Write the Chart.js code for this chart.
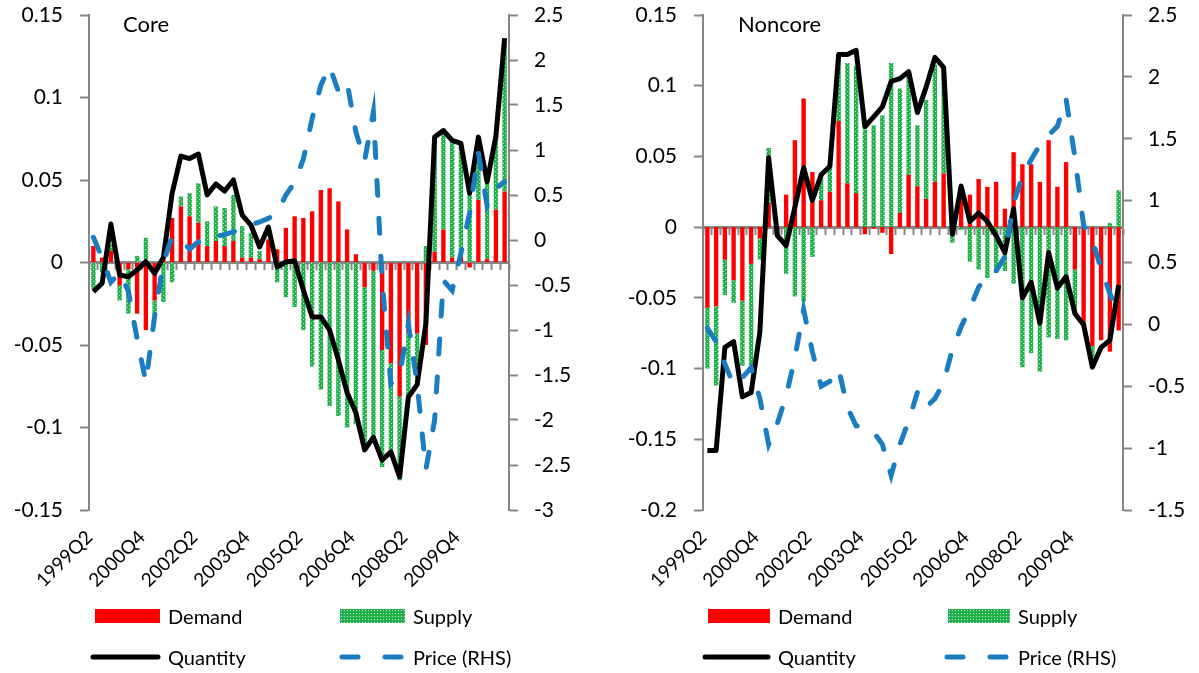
<!DOCTYPE html>
<html>
<head>
<meta charset="utf-8">
<script src="https://cdn.jsdelivr.net/npm/chart.js@4.4.1/dist/chart.umd.min.js"></script>
<style>
  body { margin: 0; background: #fff; font-family: Lato, "Open Sans", sans-serif; }
  #page { position: relative; width: 1199px; height: 673px; overflow: hidden; }
  .panel { position: absolute; top: 0; }
  .title { position: absolute; top: 10px; font-size: 22px; color: #000; }
  .lg { position: absolute; font-size: 20px; color: #000; line-height: 20px; }
  .box { position: absolute; height: 14px; }
  .red { background: #ff0000; }
  .green { background-color: #21b04b; background-image: radial-gradient(#b9e8c4 0.7px, transparent 0.9px); background-size: 3px 3px; }
  svg.sym { position: absolute; overflow: visible; }
</style>
</head>
<body>
<div id="page">
  <div class="panel" style="left:0"><canvas id="core" width="598" height="673"></canvas></div>
  <div class="panel" style="left:600px"><canvas id="noncore" width="599" height="673"></canvas></div>

  <div class="title" style="left:123px">Core</div>
  <div class="title" style="left:738px">Noncore</div>

  <div class="box red" style="left:95px;top:609px;width:65px"></div>
  <div class="lg" style="left:168px;top:606px">Demand</div>
  <div class="box green" style="left:340px;top:609px;width:65px"></div>
  <div class="lg" style="left:413px;top:606px">Supply</div>
  <svg class="sym" style="left:0;top:0" width="1" height="1"><line x1="93" y1="657" x2="158" y2="657" stroke="#000" stroke-width="5" stroke-linecap="round"/></svg>
  <div class="lg" style="left:168px;top:647px">Quantity</div>
  <svg class="sym" style="left:0;top:0" width="1" height="1"><line x1="342" y1="657" x2="405" y2="657" stroke="#1a7dc2" stroke-width="5" stroke-linecap="round" stroke-dasharray="16 27"/></svg>
  <div class="lg" style="left:413px;top:647px">Price (RHS)</div>

  <div class="box red" style="left:708px;top:609px;width:62px"></div>
  <div class="lg" style="left:778px;top:606px">Demand</div>
  <div class="box green" style="left:948px;top:609px;width:62px"></div>
  <div class="lg" style="left:1018px;top:606px">Supply</div>
  <svg class="sym" style="left:0;top:0" width="1" height="1"><line x1="705" y1="657" x2="768" y2="657" stroke="#000" stroke-width="5" stroke-linecap="round"/></svg>
  <div class="lg" style="left:778px;top:647px">Quantity</div>
  <svg class="sym" style="left:0;top:0" width="1" height="1"><line x1="947" y1="657" x2="1010" y2="657" stroke="#1a7dc2" stroke-width="5" stroke-linecap="round" stroke-dasharray="16 27"/></svg>
  <div class="lg" style="left:1018px;top:647px">Price (RHS)</div>
</div>
<script>
const quarters = [
  "1999Q2", "1999Q3", "1999Q4",
  "2000Q1", "2000Q2", "2000Q3", "2000Q4",
  "2001Q1", "2001Q2", "2001Q3", "2001Q4",
  "2002Q1", "2002Q2", "2002Q3", "2002Q4",
  "2003Q1", "2003Q2", "2003Q3", "2003Q4",
  "2004Q1", "2004Q2", "2004Q3", "2004Q4",
  "2005Q1", "2005Q2", "2005Q3", "2005Q4",
  "2006Q1", "2006Q2", "2006Q3", "2006Q4",
  "2007Q1", "2007Q2", "2007Q3", "2007Q4",
  "2008Q1", "2008Q2", "2008Q3", "2008Q4",
  "2009Q1", "2009Q2", "2009Q3", "2009Q4",
  "2010Q1", "2010Q2", "2010Q3", "2010Q4",
  "2011Q1"
];

// Core
const coreDemand = [
  0.010, 0.003, 0.007, -0.014, -0.004, -0.031, -0.041, -0.023, 0.002, 0.027,
  0.034, 0.028, 0.024, 0.010, 0.013, 0.010, 0.013, 0.003, 0.003, 0.002,
  0.014, 0.008, 0.021, 0.028, 0.027, 0.031, 0.044, 0.045, 0.037, 0.020,
  0.005, -0.015, -0.005, -0.053, -0.061, -0.081, -0.043, -0.043, -0.050, 0.0065,
  0.020, 0.003, 0.005, -0.003, 0.038, 0.002, 0.032, 0.043
];
const coreSupply = [
  -0.016, -0.006, 0.004, -0.009, -0.027, 0.004, 0.015, -0.009, -0.024, -0.012,
  0.006, 0.014, 0.024, 0.015, 0.021, 0.023, 0.028, 0.019, 0.015, 0.005,
  0.000, -0.012, -0.021, -0.027, -0.041, -0.063, -0.077, -0.087, -0.093, -0.100,
  -0.098, -0.099, -0.101, -0.071, -0.053, -0.051, -0.038, -0.031, 0.010, 0.068,
  0.058, 0.070, 0.065, 0.045, 0.038, 0.047, 0.044, 0.090
];
const coreQuantity = [
  -0.0177, -0.0125, 0.0233, -0.0076, -0.0086, -0.0045, 0.0005, -0.0065, 0.003, 0.042,
  0.0645, 0.063, 0.0657, 0.041, 0.0476, 0.0433, 0.050, 0.0288, 0.0227, 0.0094,
  0.0215, -0.0027, 0.0003, 0.001, -0.0167, -0.033, -0.033, -0.041, -0.059, -0.079,
  -0.091, -0.1136, -0.106, -0.1197, -0.1148, -0.130, -0.0815, -0.074, -0.037, 0.076,
  0.080, 0.074, 0.0722, 0.042, 0.076, 0.049, 0.0765, 0.136
];
const corePrice = [
  0.03, -0.2, -0.47, -0.36, -0.57, -1.1, -1.58, -0.85, -0.25, 0.04,
  0.0, -0.1, -0.02, 0.04, 0.04, 0.06, 0.09, 0.13, 0.17, 0.2,
  0.24, 0.3, 0.5, 0.64, 0.9, 1.35, 1.72, 1.93, 1.65, 1.75,
  1.2, 0.88, 1.42, -0.45, -1.6, -1.5, -0.93, -1.6, -2.55, -2.0,
  -0.45, -0.56, -0.15, 0.3, 0.97, 0.38, 0.57, 0.65
];

// Noncore
const noncoreDemand = [
  -0.057, -0.056, -0.023, -0.0375, -0.052, -0.026, -0.008, 0.017, -0.002, 0.023,
  0.0615, 0.091, 0.039, 0.019, 0.025, 0.075, 0.031, 0.024, -0.005, -0.001,
  -0.004, -0.019, 0.010, 0.037, 0.029, 0.020, 0.032, 0.038, 0.005, 0.0285,
  0.023, 0.034, 0.0285, 0.032, 0.013, 0.053, 0.0445, 0.0445, 0.032, 0.0615,
  0.0285, 0.046, -0.030, -0.070, -0.084, -0.080, -0.088, -0.073
];
const noncoreSupply = [
  -0.043, -0.056, -0.025, -0.016, -0.046, -0.073, -0.015, 0.039, -0.004, -0.033,
  -0.049, -0.053, -0.021, 0.019, 0.020, 0.047, 0.085, 0.090, 0.069, 0.072,
  0.079, 0.116, 0.088, 0.073, 0.043, 0.070, 0.083, 0.075, -0.011, -0.002,
  -0.0245, -0.030, -0.036, -0.0325, -0.031, -0.040, -0.099, -0.089, -0.102, -0.078,
  -0.079, -0.080, -0.031, 0.000, -0.015, 0.000, 0.003, 0.026
];
const noncoreQuantity = [
  -0.158, -0.158, -0.085, -0.081, -0.120, -0.117, -0.074, 0.049, -0.006, -0.013,
  0.014, 0.042, 0.019, 0.037, 0.043, 0.122, 0.122, 0.125, 0.071, 0.078,
  0.085, 0.103, 0.105, 0.110, 0.081, 0.099, 0.120, 0.113, -0.005, 0.029,
  0.004, 0.010, 0.004, -0.006, -0.018, 0.013, -0.050, -0.039, -0.068, -0.018,
  -0.043, -0.035, -0.061, -0.069, -0.099, -0.085, -0.080, -0.041
];
const noncorePrice = [
  -0.03, -0.14, -0.32, -0.49, -0.43, -0.35, -0.6, -0.97, -0.8, -0.58,
  -0.27, 0.12, -0.22, -0.5, -0.46, -0.36, -0.67, -0.82, -0.83, -0.87,
  -0.97, -1.22, -0.97, -0.78, -0.55, -0.67, -0.6, -0.47, -0.2, -0.02,
  0.13, 0.3, 0.4, 0.43, 0.55, 0.98, 1.2, 1.33, 1.45, 1.53,
  1.6, 1.82, 1.35, 0.8, 0.68, 0.45, 0.25, 0.07
];

const axisGrey = "#868686";
const tickFont = { family: "Lato", size: 21 };

function fmt(v) {
  return String(Math.round(v * 1000) / 1000);
}

// green fill with light dots, like the Excel pattern
function dotPattern() {
  const c = document.createElement("canvas");
  c.width = 4;
  c.height = 4;
  const g = c.getContext("2d");
  g.fillStyle = "#21b04b";
  g.fillRect(0, 0, 4, 4);
  g.fillStyle = "#b9e8c4";
  g.fillRect(1, 1, 1, 1);
  g.fillRect(3, 3, 1, 1);
  return g.createPattern(c, "repeat");
}

function makeChart(id, s) {
  const ctx = document.getElementById(id).getContext("2d");
  const canvasW = ctx.canvas.width;
  return new Chart(ctx, {
    type: "bar",
    data: {
      labels: quarters,
      datasets: [
        { label: "Demand", data: s.demand, backgroundColor: "#ff0000", stack: "bars", order: 2,
          xAxisID: "x", yAxisID: "y", barPercentage: 1, categoryPercentage: 0.5 },
        { label: "Supply", data: s.supply, backgroundColor: dotPattern(), stack: "bars", order: 2,
          xAxisID: "x", yAxisID: "y", barPercentage: 1, categoryPercentage: 0.5 },
        { type: "line", label: "Quantity", data: s.quantity, borderColor: "#000", borderWidth: 5,
          pointRadius: 0, tension: 0, stack: "q", order: 1, xAxisID: "x", yAxisID: "y",
          borderJoinStyle: "round" },
        { type: "line", label: "Price (RHS)", data: s.price, borderColor: "#1a7dc2", borderWidth: 5,
          borderDash: [15, 23], borderCapStyle: "round", pointRadius: 0, tension: 0, order: 0,
          xAxisID: "x", yAxisID: "y2" }
      ]
    },
    options: {
      responsive: false,
      animation: false,
      layout: { padding: { top: 15, left: 0, right: 0, bottom: 0 } },
      plugins: { legend: { display: false }, tooltip: { enabled: false } },
      scales: {
        x: {
          type: "category", position: "bottom", offset: true,
          grid: { display: false, drawTicks: false },
          border: { display: false },
          ticks: {
            autoSkip: false, minRotation: 45, maxRotation: 45, padding: 16, labelOffset: -4,
            color: "#000", font: { family: "Lato", size: 19 },
            callback: function (v, i) { return i % 6 === 0 ? this.getLabelForValue(v) : ""; }
          },
          afterFit: sc => { sc.height = 163; }
        },
        x0: {
          type: "category", position: { y: 0 }, offset: true,
          grid: { drawOnChartArea: false, offset: true, tickLength: 6, tickColor: axisGrey, tickWidth: 2 },
          border: { color: axisGrey, width: 3 },
          ticks: { display: false }
        },
        y: {
          position: "left", stacked: true, min: s.yMin, max: s.yMax,
          ticks: { stepSize: 0.05, color: "#000", font: tickFont, padding: 17, callback: fmt },
          grid: { drawOnChartArea: false, tickLength: 9, tickColor: axisGrey, tickWidth: 2 },
          border: { color: axisGrey, width: 2 },
          afterFit: sc => { sc.width = s.left; sc.paddingTop = 12; sc.paddingBottom = 12; }
        },
        y2: {
          position: "right", min: s.y2Min, max: s.y2Max,
          ticks: { stepSize: 0.5, color: "#000", font: tickFont, padding: 16, callback: fmt },
          grid: { drawOnChartArea: false, tickLength: 9, tickColor: axisGrey, tickWidth: 2 },
          border: { color: axisGrey, width: 2 },
          afterFit: sc => { sc.width = canvasW - s.right; sc.paddingTop = 12; sc.paddingBottom = 12; }
        }
      }
    }
  });
}

makeChart("core", {
  demand: coreDemand, supply: coreSupply, quantity: coreQuantity, price: corePrice,
  yMin: -0.15, yMax: 0.15, y2Min: -3, y2Max: 2.5, left: 89, right: 509
});
makeChart("noncore", {
  demand: noncoreDemand, supply: noncoreSupply, quantity: noncoreQuantity, price: noncorePrice,
  yMin: -0.2, yMax: 0.15, y2Min: -1.5, y2Max: 2.5, left: 103, right: 523
});
</script>
</body>
</html>
